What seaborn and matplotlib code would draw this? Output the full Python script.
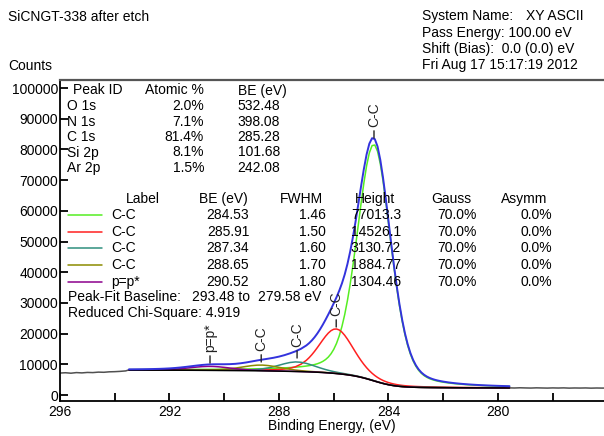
import numpy as np
import pandas as pd
import seaborn as sns
import matplotlib
matplotlib.use("Agg")
import matplotlib.pyplot as plt
from matplotlib.lines import Line2D

sns.set_theme(style="white")
plt.rcParams['font.family'] = ['Liberation Sans', 'DejaVu Sans']

# ---------------- data ----------------
comp_labels = ["C-C", "C-C", "C-C", "C-C", "p=p*"]
comp_be = [284.53, 285.91, 287.34, 288.65, 290.52]
comp_fwhm = [1.46, 1.50, 1.60, 1.70, 1.80]
comp_height = [77013.3, 14526.1, 3130.72, 1884.77, 1304.46]
comp_gauss = [70.0, 70.0, 70.0, 70.0, 70.0]
comp_asymm = [0.0, 0.0, 0.0, 0.0, 0.0]
label_anchor = [83700, 22150, 12050, 10750, 10400]

peak_ids = ["O 1s", "N 1s", "C 1s", "Si 2p", "Ar 2p"]
atomic_pct = [2.0, 7.1, 81.4, 8.1, 1.5]
peak_pos = [532.48, 398.08, 285.28, 101.68, 242.08]

# binding energy grid of the fitted region (eV)
energy = [293.48, 293.2, 293.0, 292.8, 292.6, 292.4, 292.2, 292.0, 291.8, 291.6,
          291.4, 291.2, 291.0, 290.8, 290.6, 290.4, 290.2, 290.0, 289.8, 289.6,
          289.4, 289.2, 289.0, 288.8, 288.6, 288.4, 288.2, 288.0, 287.8, 287.6,
          287.4, 287.2, 287.0, 286.9, 286.8, 286.7, 286.6, 286.5, 286.4, 286.3,
          286.2, 286.1, 286.0, 285.9, 285.8, 285.7, 285.6, 285.5, 285.4, 285.3,
          285.2, 285.1, 285.0, 284.9, 284.8, 284.7, 284.6, 284.5, 284.4, 284.3,
          284.2, 284.1, 284.0, 283.9, 283.8, 283.7, 283.6, 283.5, 283.4, 283.3,
          283.2, 283.1, 283.0, 282.9, 282.8, 282.7, 282.6, 282.5, 282.4, 282.3,
          282.2, 282.1, 282.0, 281.8, 281.6, 281.4, 281.2, 281.0, 280.8, 280.6,
          280.4, 280.2, 280.0, 279.8, 279.58]

# Shirley background (counts)
background = [8100, 8097, 8095, 8093, 8091, 8088, 8085, 8081, 8077, 8072,
              8065, 8057, 8047, 8036, 8023, 8010, 7996, 7983, 7969, 7954,
              7939, 7921, 7902, 7881, 7857, 7831, 7802, 7772, 7738, 7700,
              7658, 7611, 7557, 7527, 7493, 7457, 7416, 7371, 7321, 7265,
              7204, 7136, 7062, 6982, 6894, 6798, 6693, 6576, 6447, 6303,
              6141, 5960, 5758, 5537, 5298, 5043, 4779, 4511, 4247, 3993,
              3756, 3540, 3347, 3179, 3035, 2913, 2813, 2731, 2664, 2611,
              2569, 2535, 2508, 2486, 2468, 2453, 2440, 2429, 2419, 2410,
              2401, 2394, 2387, 2374, 2363, 2354, 2345, 2338, 2331, 2324,
              2319, 2314, 2309, 2304, 2300]

# component intensities above the background (counts)
cc1 = [153, 163, 170, 179, 188, 197, 207, 219, 231, 244,
       258, 273, 290, 309, 329, 352, 377, 404, 435, 469,
       508, 551, 600, 656, 720, 794, 879, 979, 1097, 1237,
       1405, 1612, 1875, 2038, 2232, 2467, 2760, 3136, 3626, 4275,
       5139, 6291, 7814, 9802, 12353, 15560, 19498, 24209, 29688, 35867,
       42607, 49682, 56780, 63498, 69356, 73836, 76460, 76911, 75131, 71342,
       65973, 59538, 52539, 45412, 38507, 32082, 26310, 21289, 17044, 13553,
       10749, 8548, 6851, 5561, 4591, 3863, 3316, 2899, 2576, 2320,
       2111, 1937, 1789, 1545, 1351, 1192, 1059, 948, 852, 771,
       700, 639, 585, 538, 492]
cc2 = [42, 46, 48, 51, 54, 57, 61, 65, 70, 74,
       80, 86, 93, 100, 109, 118, 129, 142, 156, 173,
       192, 215, 243, 275, 316, 367, 438, 544, 717, 1018,
       1540, 2409, 3752, 4628, 5641, 6778, 8015, 9313, 10618, 11861,
       12958, 13821, 14363, 14524, 14284, 13671, 12755, 11621, 10360, 9051,
       7762, 6542, 5428, 4442, 3594, 2883, 2303, 1839, 1475, 1194,
       980, 818, 696, 603, 531, 475, 430, 393, 362, 335,
       311, 290, 272, 255, 240, 226, 213, 201, 190, 180,
       171, 163, 155, 140, 128, 117, 108, 99, 92, 85,
       79, 74, 69, 65, 60]
cc3 = [16, 17, 18, 20, 21, 23, 25, 27, 29, 32,
       35, 39, 43, 48, 53, 60, 68, 79, 93, 113,
       145, 198, 288, 435, 662, 990, 1419, 1926, 2449, 2886,
       3117, 3057, 2729, 2498, 2243, 1979, 1717, 1467, 1236, 1028,
       846, 691, 560, 453, 368, 300, 246, 205, 174, 149,
       131, 116, 104, 95, 87, 80, 74, 69, 65, 61,
       57, 54, 51, 48, 46, 43, 41, 39, 37, 35,
       34, 32, 31, 30, 28, 27, 26, 25, 24, 23,
       22, 21, 21, 19, 18, 17, 16, 15, 14, 13,
       12, 12, 11, 10, 10]
cc4 = [17, 19, 21, 23, 25, 28, 31, 34, 38, 44,
       50, 59, 72, 92, 125, 178, 262, 390, 571, 806,
       1087, 1386, 1657, 1840, 1880, 1763, 1528, 1236, 942, 682,
       473, 320, 215, 178, 148, 125, 106, 92, 81, 72,
       65, 59, 54, 50, 47, 44, 41, 38, 36, 34,
       32, 31, 29, 28, 26, 25, 24, 23, 22, 21,
       20, 19, 18, 18, 17, 16, 16, 15, 14, 14,
       13, 13, 13, 12, 12, 11, 11, 11, 10, 10,
       10, 9, 9, 9, 8, 8, 7, 7, 7, 6,
       6, 6, 5, 5, 5]
pp = [34, 42, 50, 63, 84, 117, 169, 246, 354, 497,
      671, 864, 1054, 1211, 1296, 1286, 1184, 1018, 825, 634,
      466, 330, 228, 157, 109, 79, 60, 48, 40, 35,
      30, 27, 24, 23, 22, 21, 20, 19, 18, 17,
      16, 16, 15, 14, 14, 13, 13, 12, 12, 11,
      11, 11, 10, 10, 9, 9, 9, 9, 8, 8,
      8, 8, 7, 7, 7, 7, 7, 6, 6, 6,
      6, 6, 6, 5, 5, 5, 5, 5, 5, 5,
      5, 4, 4, 4, 4, 4, 4, 3, 3, 3,
      3, 3, 3, 3, 3]

# raw counts outside the fitted region
raw_left_be = [296.0, 295.8, 295.6, 295.4, 295.2, 295.0, 294.8, 294.6, 294.4, 294.2, 294.0, 293.8, 293.6, 293.48]
raw_left = [7150, 7250, 7100, 7300, 7200, 7350, 7300, 7450, 7400, 7550, 7600, 7700, 7850, 8200]
raw_right_be = [279.58, 279.4, 279.2, 279.0, 278.8, 278.6, 278.4, 278.2, 278.0, 277.8,
                277.6, 277.4, 277.2, 277.0, 276.8, 276.6, 276.4, 276.2, 276.0]
raw_right = [2320, 2280, 2350, 2300, 2260, 2330, 2290, 2250, 2310, 2270,
             2320, 2240, 2290, 2260, 2300, 2230, 2280, 2250, 2270]

# ---------------- figure ----------------
W, H = 604, 436
cols = ['#55ee22', '#ff2020', '#2f8f7f', '#8c8c00', '#8b008b']

e = np.array(energy)
bg = np.array(background)
comps = [np.array(c) for c in (cc1, cc2, cc3, cc4, pp)]
envelope = bg + sum(comps)

fig = plt.figure(figsize=(W / 100, H / 100), dpi=100)
ax = fig.add_axes([60 / W, 1 - 401 / H, 544 / W, 321 / H])

sns.lineplot(x=raw_left_be, y=raw_left, ax=ax, color='#505050', lw=1.1, estimator=None)
sns.lineplot(x=raw_right_be, y=raw_right, ax=ax, color='#505050', lw=1.1, estimator=None)
for c, col in zip(comps, cols):
    sns.lineplot(x=e, y=bg + c, ax=ax, color=col, lw=1.1, estimator=None)
sns.lineplot(x=e, y=bg, ax=ax, color='black', lw=1.1, estimator=None)
sns.lineplot(x=e, y=envelope, ax=ax, color='#3333dd', lw=1.4, estimator=None)

ax.set_xlim(296, 296 - 544 / 27.375)
ax.set_ylim(-(401 - 395) / 0.00307, (395 - 80) / 0.00307)

for s in ['left', 'bottom']:
    ax.spines[s].set_color('black'); ax.spines[s].set_linewidth(1.3)
ax.spines['top'].set_color('#555555'); ax.spines['top'].set_linewidth(1.6)
ax.spines['right'].set_visible(False)
ax.set_xticks([296, 292, 288, 284, 280])
ax.set_xticks([294, 290, 286, 282, 278], minor=True)
ax.set_yticks(list(range(0, 100001, 10000)))
ax.set_yticklabels([str(v) for v in range(0, 100001, 10000)])
ax.tick_params(axis='x', which='both', direction='in', length=6, width=1.3, color='black',
               labelsize=10, pad=3, bottom=True, labelcolor='black')
ax.tick_params(axis='y', which='both', direction='in', length=6, width=1.3, color='black',
               labelsize=10, pad=1.5, left=True, labelcolor='black')
ax.set_xlabel(''); ax.set_ylabel('')


def T(x, y, s, ha='left'):
    fig.text(x / W, 1 - y / H, s, ha=ha, va='center', fontsize=10, color='black')


T(8, 17, "SiCNGT-338 after etch")
T(8, 66, "Counts")
T(421.7, 16, "System Name:"); T(525.7, 16, "XY ASCII")
T(421.7, 33, "Pass Energy: 100.00 eV")
T(421.7, 49, "Shift (Bias):  0.0 (0.0) eV")
T(421.7, 65, "Fri Aug 17 15:17:19 2012")
T(332, 426, "Binding Energy, (eV)", ha='center')

T(72.7, 90.5, "Peak ID"); T(145, 90.5, "Atomic %"); T(237.7, 90.5, "BE (eV)")
for i, (pid, ap, pe) in enumerate(zip(peak_ids, atomic_pct, peak_pos)):
    y = 106 + 15.5 * i
    T(66.7, y, pid); T(204, y, f"{ap:.1f}%", ha='right'); T(237.7, y, f"{pe:.2f}")

T(125.6, 199, "Label"); T(199, 199, "BE (eV)"); T(280, 199, "FWHM")
T(355, 199, "Height"); T(431, 199, "Gauss"); T(501, 199, "Asymm")
for i in range(5):
    y = 215 + 16.7 * i
    fig.add_artist(Line2D([68 / W, 102 / W], [1 - y / H] * 2, color=cols[i], lw=1.1,
                          transform=fig.transFigure))
    T(111, y, comp_labels[i])
    T(249.3, y, f"{comp_be[i]:.2f}", ha='right')
    T(325.5, y, f"{comp_fwhm[i]:.2f}", ha='right')
    T(401, y, f"{comp_height[i]:.6g}", ha='right')
    T(477, y, f"{comp_gauss[i]:.1f}%", ha='right')
    T(552, y, f"{comp_asymm[i]:.1f}%", ha='right')
T(67.6, 297, "Peak-Fit Baseline:"); T(191.7, 297, "293.48 to"); T(258, 297, "279.58 eV")
T(67.6, 313, "Reduced Chi-Square: 4.919")

for x, y, lab in zip(comp_be, label_anchor, comp_labels):
    ax.annotate('', xy=(x, y), xytext=(0, 5.2), textcoords='offset points',
                arrowprops=dict(arrowstyle='-', lw=1.0, color='#222222', shrinkA=0, shrinkB=0))
    ax.annotate(lab, xy=(x, y), xytext=(0, 7.8), textcoords='offset points', rotation=90,
                ha='center', va='bottom', fontsize=10, color='#222222')

plt.savefig("out.png", dpi=100)
